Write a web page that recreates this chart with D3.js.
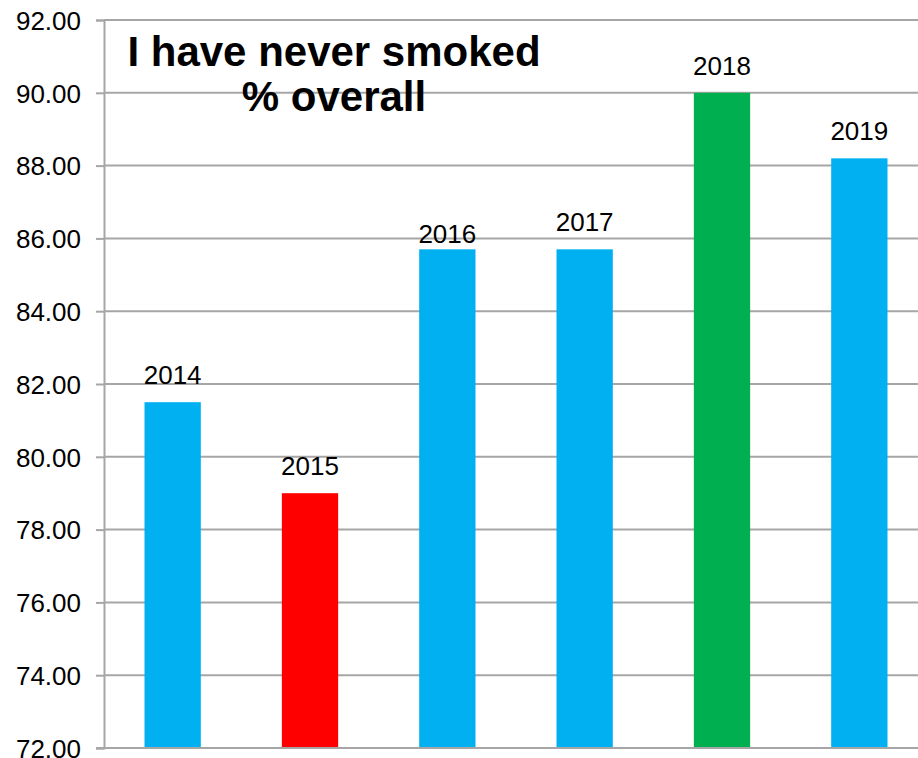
<!DOCTYPE html>
<html>
<head>
<meta charset="utf-8">
<script src="https://cdn.jsdelivr.net/npm/d3@7"></script>
<style>
  html, body { margin: 0; padding: 0; background: #fff; }
  svg { display: block; }
  text { font-family: "Liberation Sans", Arial, sans-serif; }
</style>
</head>
<body>
<script>
// Survey result: share who have never smoked, by year
const years = ["2014", "2015", "2016", "2017", "2018", "2019"];
const values = [81.5, 79.0, 85.7, 85.7, 90.0, 88.2];
const barColors = ["#00B0F0", "#FF0000", "#00B0F0", "#00B0F0", "#00B050", "#00B0F0"];
const yTicks = [72, 74, 76, 78, 80, 82, 84, 86, 88, 90, 92];
const titleLines = ["I have never smoked", "% overall"];

const W = 918, H = 758;
const plotLeft = 104, plotRight = 928, plotTop = 20, plotBottom = 748;

const svg = d3.select("body").append("svg")
  .attr("width", W).attr("height", H);

const x = d3.scaleBand()
  .domain(years)
  .range([plotLeft, plotRight])
  .paddingInner(0.59)
  .paddingOuter(0.295);

const y = d3.scaleLinear()
  .domain([72, 92])
  .range([plotBottom, plotTop]);

const grey = "#a6a6a6";

// horizontal gridlines
svg.append("g")
  .selectAll("line")
  .data(yTicks.filter(t => t !== 72))
  .join("line")
  .attr("x1", plotLeft).attr("x2", W)
  .attr("y1", d => y(d)).attr("y2", d => y(d))
  .attr("stroke", grey).attr("stroke-width", 2);

// y axis
const yAxis = svg.append("g")
  .attr("transform", `translate(${plotLeft},0)`)
  .call(d3.axisLeft(y).tickValues(yTicks).tickFormat(d3.format(".2f")).tickSize(8).tickPadding(15));
yAxis.select(".domain").attr("stroke", grey).attr("stroke-width", 2);
yAxis.selectAll(".tick line").attr("stroke", grey).attr("stroke-width", 2);
yAxis.selectAll(".tick text")
  .attr("font-size", 26)
  .attr("fill", "#000")
  .attr("font-family", "'Liberation Sans', Arial, sans-serif")
  .attr("dy", "0.36em");

// bars
svg.append("g")
  .selectAll("rect")
  .data(years)
  .join("rect")
  .attr("x", d => x(d))
  .attr("width", x.bandwidth())
  .attr("y", (d, i) => y(values[i]))
  .attr("height", (d, i) => y(72) - y(values[i]))
  .attr("fill", (d, i) => barColors[i]);

// baseline
svg.append("line")
  .attr("x1", plotLeft - 8).attr("x2", W)
  .attr("y1", y(72)).attr("y2", y(72))
  .attr("stroke", grey).attr("stroke-width", 2);

// year labels above bars (the 2016 label sits a little lower)
svg.append("g")
  .selectAll("text")
  .data(years)
  .join("text")
  .attr("x", d => x(d) + x.bandwidth() / 2)
  .attr("y", (d, i) => y(values[i]) - (d === "2016" ? 6 : 18))
  .attr("text-anchor", "middle")
  .attr("font-size", 26)
  .attr("fill", "#000")
  .text(d => d);

// title
svg.append("g")
  .selectAll("text")
  .data(titleLines)
  .join("text")
  .attr("x", 334)
  .attr("y", (d, i) => 66 + i * 45)
  .attr("text-anchor", "middle")
  .attr("font-size", 42)
  .attr("font-weight", "bold")
  .attr("fill", "#000")
  .text(d => d);
</script>
</body>
</html>
